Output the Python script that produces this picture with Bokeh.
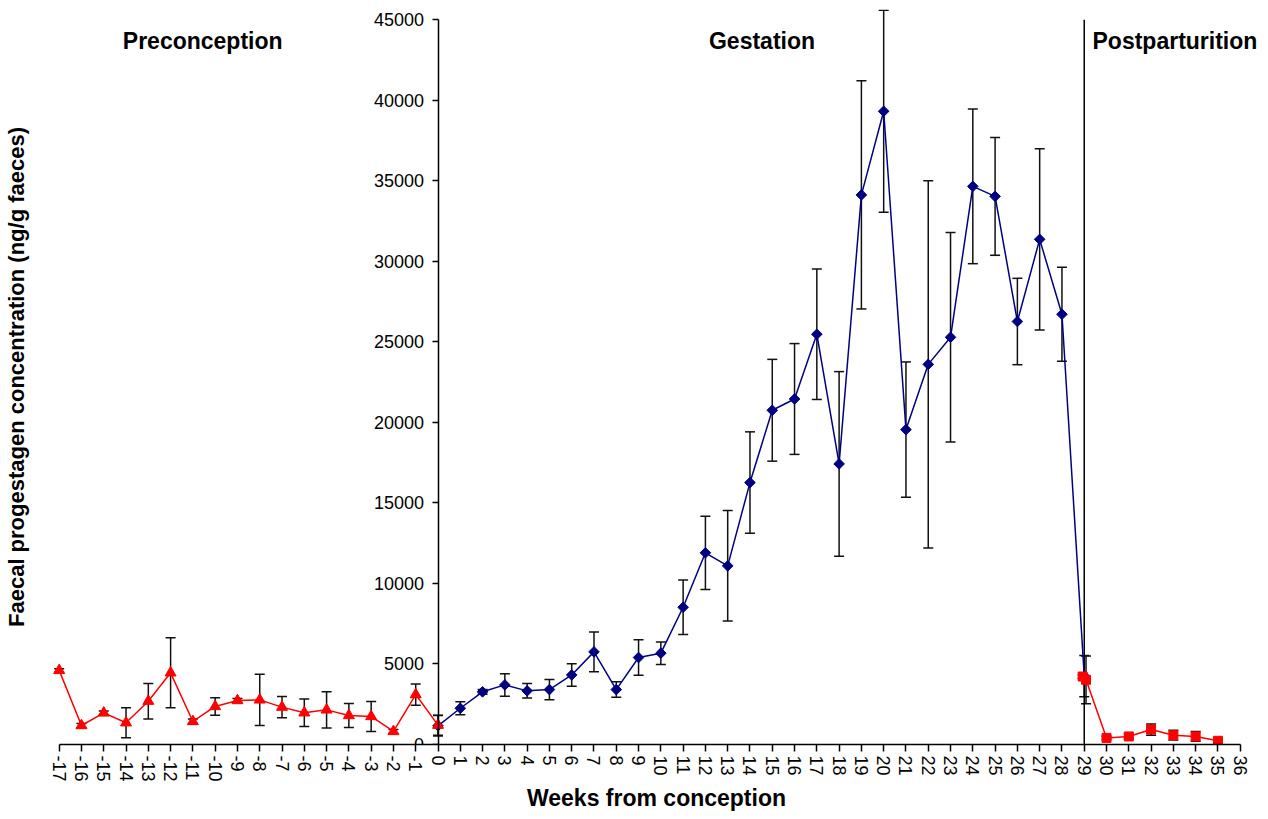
import math
from bokeh.plotting import figure
from bokeh.models import (ColumnDataSource, Whisker, TeeHead, LinearAxis,
                          FixedTicker, Label, Range1d)
from bokeh.embed import file_html
from bokeh.resources import INLINE

# ---------------- data ----------------
pre_weeks = list(range(-17, 1))
pre_mean = [4600, 1180, 1960, 1350, 2690, 4450, 1430, 2360, 2730, 2770,
            2320, 1970, 2150, 1800, 1740, 810, 3100, 1200]
pre_err = [100, 120, 120, 930, 1100, 2170, 150, 540, 130, 1590,
           660, 850, 1120, 750, 930, 120, 660, 620]

gest_weeks = list(range(0, 30))
gest_mean = [1160, 2250, 3270, 3700, 3330, 3410, 4320, 5750, 3410, 5400,
             5670, 8520, 11900, 11090, 16260, 20750, 21450, 25470, 17420, 34120,
             39310, 19550, 23600, 25280, 34650, 34030, 26260, 31360, 26710, 4250]
gest_err = [640, 400, 150, 700, 450, 630, 700, 1240, 480, 1100,
            700, 1690, 2270, 3430, 3150, 3160, 3440, 4050, 5730, 7080,
            6270, 4200, 11400, 6500, 4800, 3660, 2680, 5620, 2920, 1280]

post_weeks = [28.93, 29.08, 30, 31, 32, 33, 34, 35]
post_mean = [4220, 4016, 410, 500, 930, 580, 500, 230]
post_err = [100, 1480, 100, 150, 350, 300, 300, 100]

x_ticks = list(range(-17, 37))
y_ticks = list(range(0, 45001, 5000))
birth_week = 29
phase_labels = ["Preconception", "Gestation", "Postparturition"]
phase_x = [-10.56, 14.54, 33.07]
phase_y = 43700

FONT = "Liberation Sans"
RED = "#FF0000"
NAVY = "#000080"

p = figure(width=1268, height=819, output_backend="svg", toolbar_location=None,
           x_range=Range1d(-17.3, 36.91), y_range=Range1d(0, 45630),
           min_border_left=52, min_border_right=8, min_border_top=9,
           min_border_bottom=75)
p.outline_line_color = None
p.xgrid.visible = False
p.ygrid.visible = False
p.background_fill_color = "white"

# ---- x axis ----
xa = p.xaxis[0]
xa.ticker = FixedTicker(ticks=x_ticks)
xa.major_label_overrides = {t: str(t) for t in x_ticks}
xa.bounds = (-17, 36)
xa.major_label_orientation = "vertical"
xa.major_label_text_font = FONT
xa.major_label_text_font_size = "18px"
xa.major_label_text_color = "black"
xa.major_label_standoff = 4
xa.major_tick_out = 7
xa.major_tick_in = 0
xa.minor_tick_out = 0
xa.minor_tick_in = 0
xa.axis_line_width = 1.5
xa.major_tick_line_width = 1.5
xa.axis_label = "Weeks from conception"
xa.axis_label_text_font = FONT
xa.axis_label_text_font_size = "23px"
xa.axis_label_text_font_style = "bold"
xa.axis_label_text_color = "black"
xa.axis_label_standoff = 0

# ---- left axis: only carries the title ----
ya = p.yaxis[0]
ya.ticker = FixedTicker(ticks=[])
ya.major_label_text_font_size = "0px"
ya.major_label_standoff = 0
ya.major_tick_out = 0
ya.major_tick_in = 0
ya.minor_tick_out = 0
ya.minor_tick_in = 0
ya.axis_line_color = None
ya.axis_label = "Faecal progestagen concentration (ng/g faeces)"
ya.axis_label_text_font = FONT
ya.axis_label_text_font_size = "22px"
ya.axis_label_text_font_style = "bold"
ya.axis_label_text_color = "black"
ya.axis_label_standoff = 24

# ---- y axis crossing at week 0 ----
yb = LinearAxis(fixed_location=0, ticker=FixedTicker(ticks=y_ticks), bounds=(0, 45000))
yb.major_label_text_font = FONT
yb.major_label_text_font_size = "18px"
yb.major_label_text_color = "black"
yb.major_label_standoff = 8
yb.major_tick_out = 6
yb.major_tick_in = 0
yb.minor_tick_out = 0
yb.minor_tick_in = 0
yb.axis_line_width = 1.5
yb.major_tick_line_width = 1.5
p.add_layout(yb, "left")

# ---- error bars ----
def add_err(xs, ms, es):
    src = ColumnDataSource(dict(x=xs, lo=[m - e for m, e in zip(ms, es)],
                                hi=[m + e for m, e in zip(ms, es)]))
    w = Whisker(source=src, base="x", lower="lo", upper="hi",
                line_color="#111111", line_width=1.5,
                upper_head=TeeHead(size=10, line_color="#111111", line_width=1.5),
                lower_head=TeeHead(size=10, line_color="#111111", line_width=1.5))
    p.add_layout(w)

add_err(gest_weeks, gest_mean, gest_err)
add_err(pre_weeks, pre_mean, pre_err)
add_err(post_weeks, post_mean, post_err)

# ---- birth line ----
p.segment(x0=[birth_week], y0=[0], x1=[birth_week], y1=[y_ticks[-1]],
          line_color="black", line_width=1.5)

# ---- series ----
p.line(gest_weeks, gest_mean, line_color=NAVY, line_width=1.5)
p.scatter(gest_weeks, gest_mean, marker="square", angle=math.pi / 4, size=7.5,
          fill_color=NAVY, line_color=NAVY)

p.line(pre_weeks, pre_mean, line_color=RED, line_width=1.5)
p.scatter(pre_weeks, pre_mean, marker="triangle", size=11,
          fill_color=RED, line_color=RED)

p.line(post_weeks, post_mean, line_color=RED, line_width=1.5)
p.scatter(post_weeks, post_mean, marker="square", size=9,
          fill_color=RED, line_color=RED)

# ---- phase titles ----
for t, x in zip(phase_labels, phase_x):
    p.add_layout(Label(x=x, y=phase_y, text=t, text_align="center",
                       text_baseline="alphabetic", text_font=FONT,
                       text_font_size="23px", text_font_style="bold",
                       text_color="black"))

open("out.html", "w").write(file_html(p, INLINE))
